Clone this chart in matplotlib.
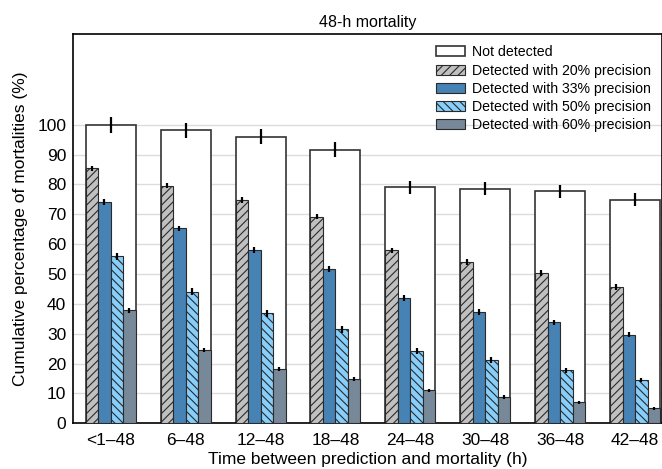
import matplotlib
matplotlib.use("Agg")
import matplotlib.pyplot as plt
import numpy as np

plt.rcParams['font.family'] = ['Liberation Sans', 'DejaVu Sans']
plt.rcParams['hatch.linewidth'] = 0.8

categories = ["<1\u201348", "6\u201348", "12\u201348", "18\u201348", "24\u201348", "30\u201348", "36\u201348", "42\u201348"]
not_detected = [100.0, 98.1, 96.0, 91.6, 79.1, 78.6, 77.7, 74.9]
prec20 = [85.4, 79.6, 74.8, 69.2, 57.9, 54.0, 50.4, 45.7]
prec33 = [74.1, 65.3, 58.0, 51.8, 41.9, 37.4, 33.8, 29.7]
prec50 = [56.0, 44.1, 36.8, 31.5, 24.3, 21.1, 17.7, 14.4]
prec60 = [37.8, 24.5, 18.1, 14.9, 11.0, 8.9, 7.0, 5.1]
err_nd = [2.6, 2.6, 2.5, 2.5, 2.2, 2.2, 2.2, 2.2]
err20 = [0.8, 0.8, 0.9, 0.9, 0.9, 0.9, 1.0, 1.0]
err33 = [0.9, 0.9, 1.0, 1.0, 1.0, 1.0, 0.9, 0.9]
err50 = [1.2, 1.2, 1.1, 1.1, 1.0, 1.0, 0.7, 0.7]
err60 = [0.8, 0.6, 0.6, 0.6, 0.6, 0.6, 0.6, 0.5]
yticks = [0, 10, 20, 30, 40, 50, 60, 70, 80, 90, 100]
labels = ["Not detected", "Detected with 20% precision", "Detected with 33% precision",
          "Detected with 50% precision", "Detected with 60% precision"]

fig = plt.figure(figsize=(6.62, 4.69), dpi=100)
ax = fig.add_axes([0.1107, 0.0974, 0.8893, 0.8301])

x = np.arange(len(categories))
W = 2 / 3
w = W / 4
ekw = dict(ecolor='black', elinewidth=1.6, capsize=0)

ax.bar(x, not_detected, W, color='white', edgecolor='#333333', linewidth=1.2,
       yerr=err_nd, error_kw=ekw, label=labels[0], zorder=2)
series = [
    (prec20, err20, '#c0c0c0', '////', labels[1]),
    (prec33, err33, '#4682b4', None, labels[2]),
    (prec50, err50, '#87cefa', '\\\\\\\\', labels[3]),
    (prec60, err60, '#778899', None, labels[4]),
]
for i, (vals, errs, col, hatch, lab) in enumerate(series):
    pos = x - W / 2 + w * (i + 0.5)
    ax.bar(pos, vals, w, color=col, edgecolor='#2a2a2a', linewidth=0.8, hatch=hatch,
           yerr=errs, error_kw=dict(ecolor='black', elinewidth=1.6, capsize=0),
           label=lab, zorder=3)

ax.set_xlim(-0.5, 7.36)
ax.set_ylim(0, 130.4)
ax.set_yticks(yticks)
ax.set_xticks(x)
ax.set_xticklabels(categories)
ax.tick_params(axis='x', length=0, labelsize=12.5, pad=7)
ax.tick_params(axis='y', length=0, labelsize=12.5, pad=5)
ax.yaxis.grid(True, color='#dcdcdc', linewidth=1.0, zorder=0)
ax.set_axisbelow(True)
for s in ax.spines.values():
    s.set_linewidth(1.2)
    s.set_color('black')

ax.set_xlabel("Time between prediction and mortality (h)", fontsize=12.5, labelpad=3)
ax.set_ylabel("Cumulative percentage of mortalities (%)", fontsize=12.5, labelpad=7)
ax.set_title("48-h mortality", fontsize=11.5, pad=5)

leg = ax.legend(loc='upper right', frameon=False, fontsize=10.2, handlelength=2.1,
                handleheight=0.7, labelspacing=0.3, handletextpad=0.45,
                bbox_to_anchor=(1.0, 1.0), borderaxespad=0.4)

fig.savefig("out.png", dpi=100)
